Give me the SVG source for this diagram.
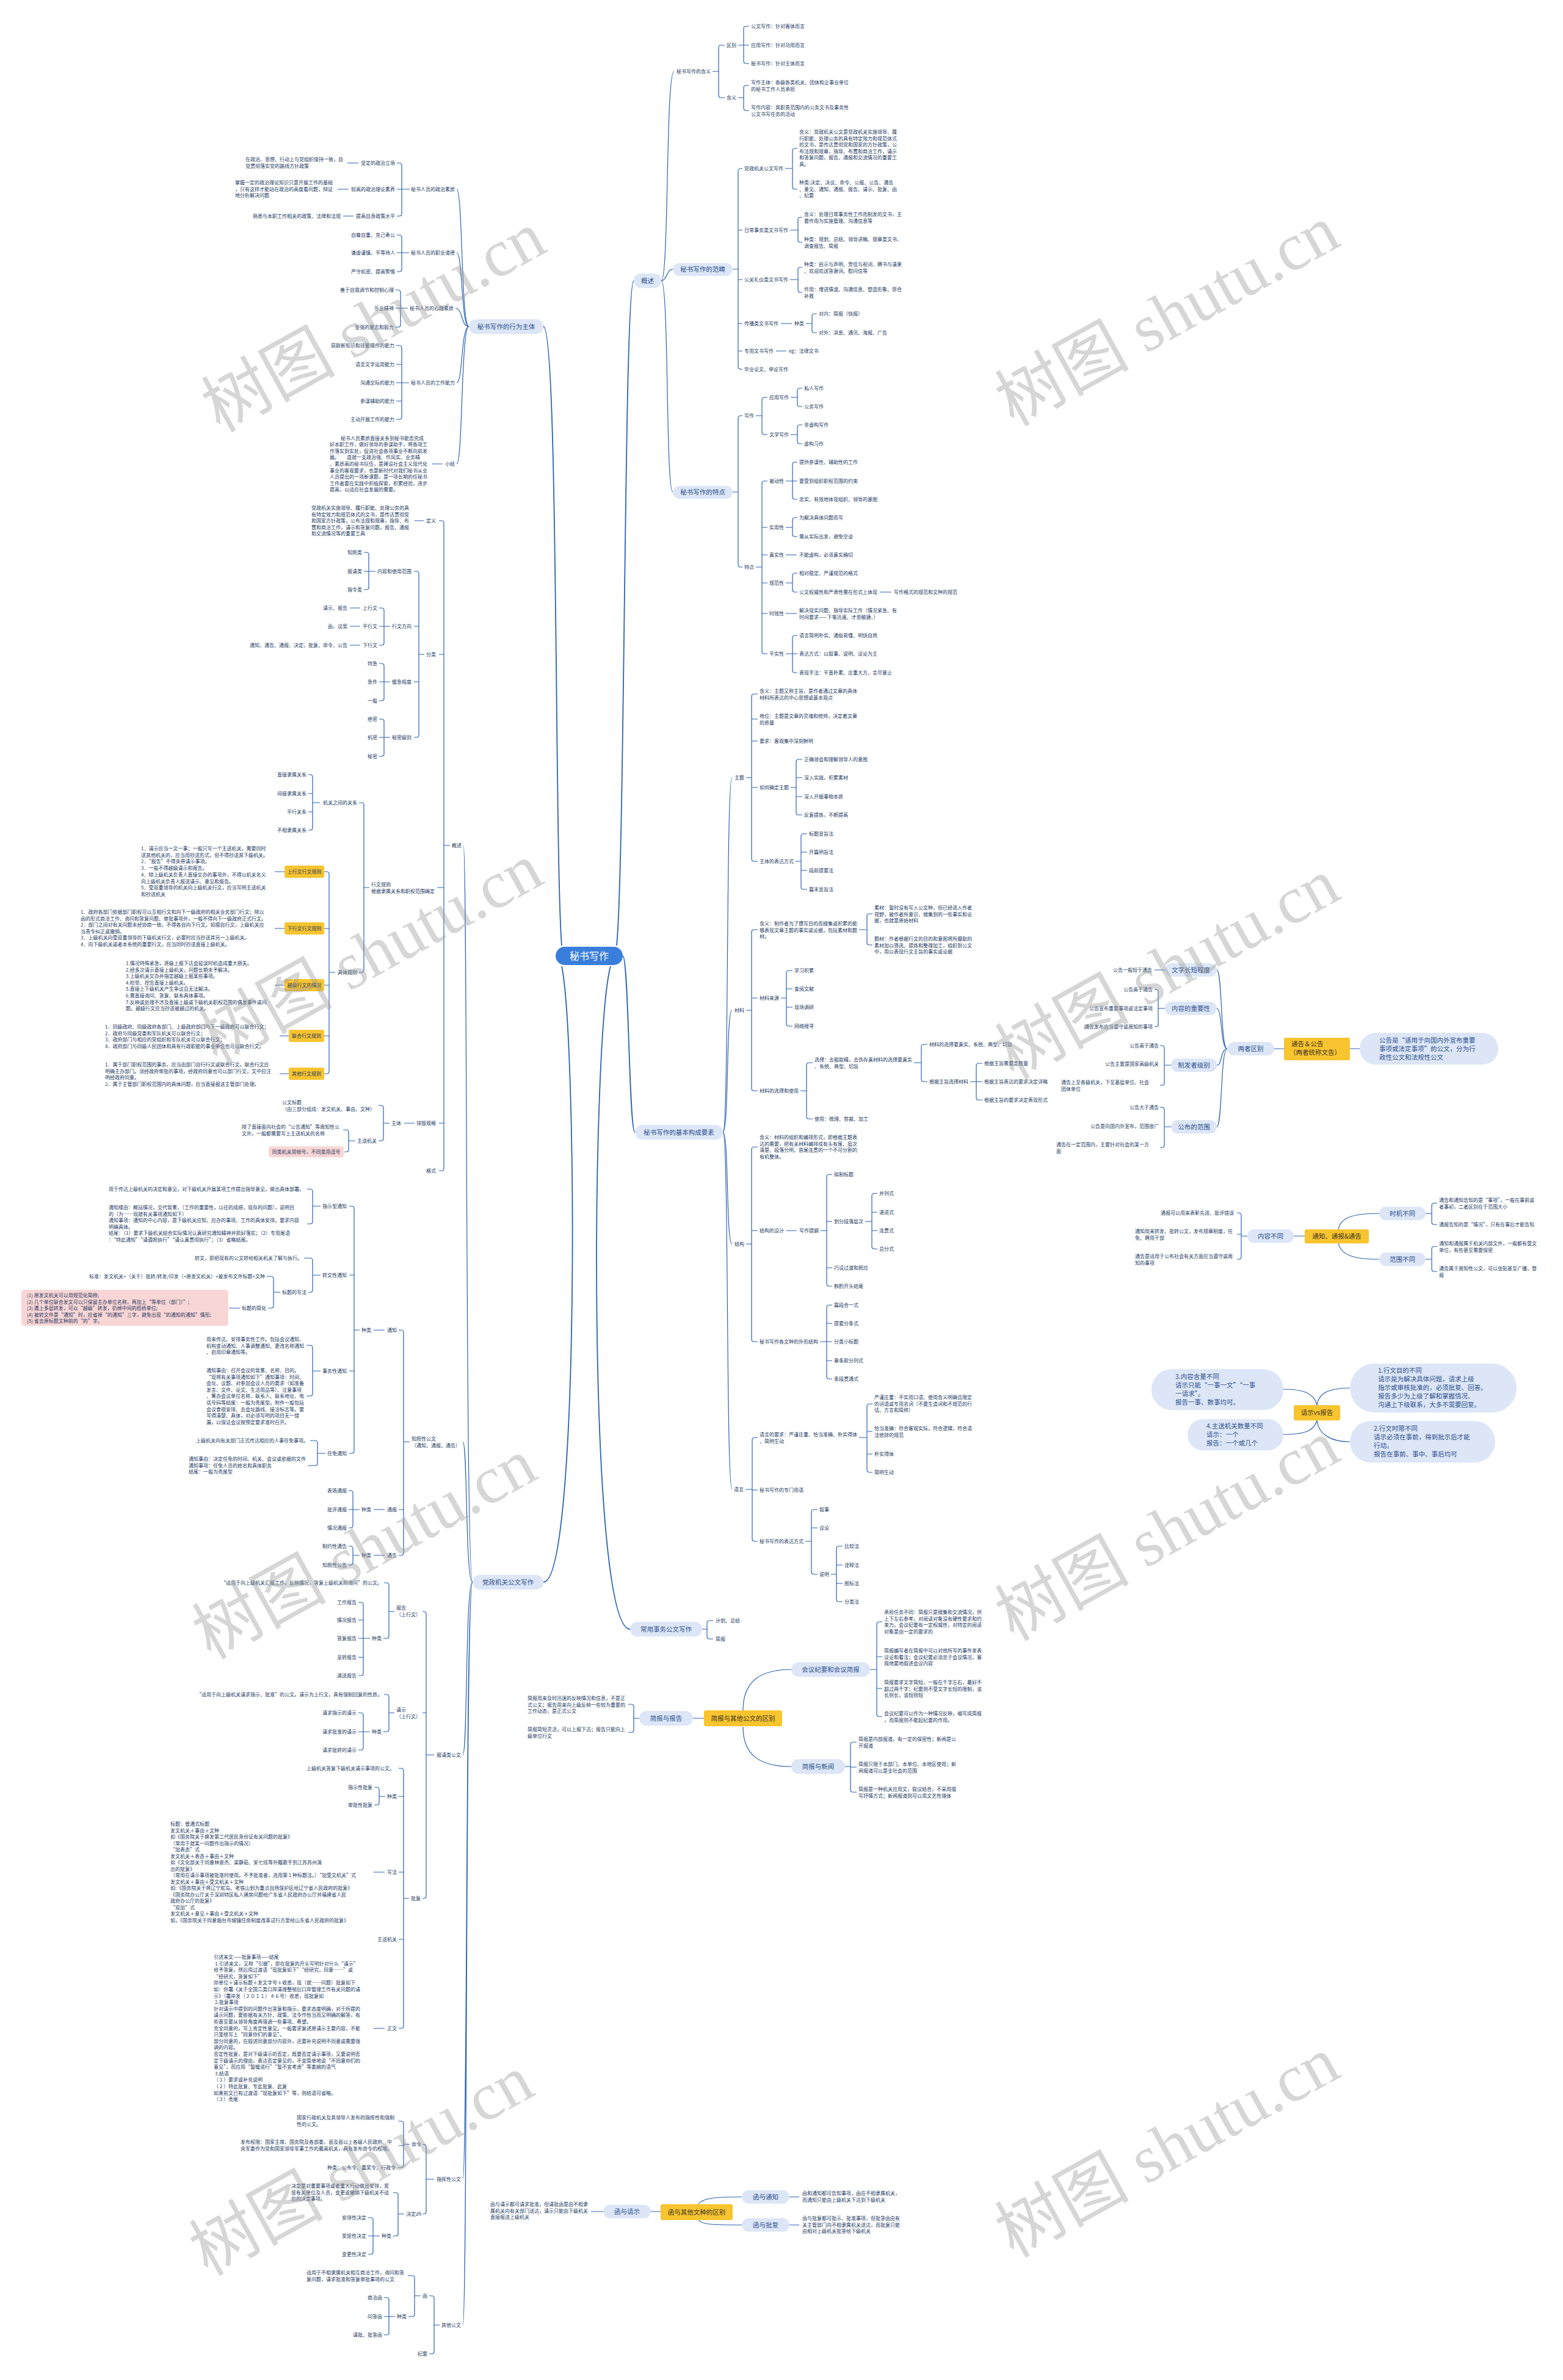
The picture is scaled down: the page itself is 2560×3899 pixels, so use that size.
<svg xmlns="http://www.w3.org/2000/svg" width="2560" height="3899" viewBox="0 0 2560 3899">
<style>
.t{font-family:"Noto Sans CJK SC","Noto Sans",sans-serif;font-size:8px;fill:#22375e}
.e{text-anchor:end}
.m{text-anchor:middle}
.pt{font-family:"Noto Sans CJK SC","Noto Sans",sans-serif;font-size:10.5px;fill:#2d4f8e;text-anchor:middle}
.pm{font-family:"Noto Sans CJK SC","Noto Sans",sans-serif;font-size:10.5px;fill:#2d4f8e}
.yt{font-family:"Noto Sans CJK SC","Noto Sans",sans-serif;font-size:10.5px;fill:#3b3320}
.pill{fill:#dce6f7}
.yb{fill:#f8c42f}
.pk{fill:#f9d6d6}
.c{fill:none;stroke:#2c63b3;stroke-width:1.2}
.cm{fill:none;stroke:#2c63b3;stroke-width:1.8}
.wm{font-family:"Liberation Serif","Noto Sans CJK SC",serif;font-size:110px;fill:#9a9a9a;opacity:.4;text-anchor:middle}
</style>
<rect width="2560" height="3899" fill="#ffffff"/>
<g id="connectors">
<path class="cm" d="M1010 1549 C1024 1400 1022 460 1038 460 M1020 1566 C1030 1566 1030 1855 1040 1855 M1000 1583 C968 1700 962 2669 1032 2669 M920 1549 C908 1400 915 535 890 535 M920 1583 C945 1700 950 2592 890 2592"/>
<path class="c" d="M1083 460 C1096 460 1090 117 1104 117 M1083 460 C1092 460 1092 441 1102 441 M1083 460 C1096 460 1090 806 1102 806"/>
<path class="c" d="M1167 117 H1177 M1187 74 H1181 Q1177 74 1177 78 V156 Q1177 160 1181 160 H1187 M1209 74 H1227 M1227 43 H1222 Q1218 43 1218 47 V100 Q1218 104 1222 104 H1227 M1209 160 H1218 M1227 140 H1222 Q1218 140 1218 144 V177 Q1218 181 1222 181 H1227"/>
<path class="c" d="M1200 441 H1209 M1216 276 H1214 Q1209 276 1209 281 V600 Q1209 605 1214 605 H1216 M1209 377 H1216 M1209 458 H1216 M1209 530 H1216 M1209 575 H1216 M1286 276 H1298 M1306 243 H1302 Q1298 243 1298 247 V306 Q1298 310 1302 310 H1306 M1294 377 H1307 M1314 356 H1311 Q1307 356 1307 360 V393 Q1307 397 1311 397 H1314 M1294 458 H1307 M1314 438 H1311 Q1307 438 1307 442 V475 Q1307 479 1311 479 H1314 M1279 530 H1297 M1320 530 H1330 M1338 514 H1334 Q1330 514 1330 518 V541 Q1330 545 1334 545 H1338 M1271 575 H1288"/>
<path class="c" d="M1200 806 H1209 M1216 681 H1213 Q1209 681 1209 685 V925 Q1209 929 1213 929 H1216 M1238 681 H1248 M1257 651 H1252 Q1248 651 1248 655 V708 Q1248 712 1252 712 H1257 M1295 651 H1306 M1314 636 H1310 Q1306 636 1306 640 V662 Q1306 666 1310 666 H1314 M1295 712 H1306 M1314 696 H1310 Q1306 696 1306 700 V723 Q1306 727 1310 727 H1314 M1238 929 H1248 M1257 788 H1252 Q1248 788 1248 792 V1067 Q1248 1071 1252 1071 H1257 M1248 864 H1257 M1248 909 H1257 M1248 955 H1257 M1248 1005 H1257 M1287 788 H1306 M1306 757 H1302 Q1298 757 1298 761 V814 Q1298 818 1302 818 H1306 M1287 864 H1298 M1306 848 H1302 Q1298 848 1298 852 V875 Q1298 879 1302 879 H1306 M1287 909 H1305 M1287 955 H1298 M1306 939 H1302 Q1298 939 1298 943 V966 Q1298 970 1302 970 H1306 M1441 970 H1460 M1287 1005 H1305 M1287 1071 H1306 M1306 1041 H1302 Q1298 1041 1298 1045 V1098 Q1298 1102 1302 1102 H1306"/>
<path class="c" d="M1184 1855 C1194 1855 1189 1274 1199 1274 M1184 1855 C1194 1855 1189 1655 1199 1655 M1184 1855 C1194 1855 1189 2038 1199 2038 M1184 1855 C1194 1855 1189 2440 1199 2440"/>
<path class="c" d="M1222 1274 H1231 M1241 1137 H1235 Q1231 1137 1231 1141 V1407 Q1231 1411 1235 1411 H1241 M1231 1178 H1241 M1231 1214 H1241 M1231 1290 H1241 M1295 1290 H1304 M1314 1244 H1308 Q1304 1244 1304 1248 V1331 Q1304 1335 1308 1335 H1314 M1304 1274 H1314 M1304 1305 H1314 M1303 1411 H1312 M1322 1366 H1316 Q1312 1366 1312 1370 V1453 Q1312 1457 1316 1457 H1322 M1312 1396 H1322 M1312 1426 H1322"/>
<path class="c" d="M1222 1655 H1231 M1241 1523 H1235 Q1231 1523 1231 1527 V1783 Q1231 1787 1235 1787 H1241 M1231 1635 H1241 M1407 1523 H1420 M1429 1497 H1424 Q1420 1497 1420 1501 V1544 Q1420 1548 1424 1548 H1429 M1279 1635 H1288 M1298 1590 H1292 Q1288 1590 1288 1594 V1677 Q1288 1681 1292 1681 H1298 M1288 1620 H1298 M1288 1650 H1298 M1311 1787 H1321 M1331 1741 H1325 Q1321 1741 1321 1745 V1829 Q1321 1833 1325 1833 H1331 M1497 1741 H1509 M1519 1711 H1513 Q1509 1711 1509 1715 V1768 Q1509 1772 1513 1772 H1519 M1589 1772 H1609 M1609 1742 H1603 Q1599 1742 1599 1746 V1798 Q1599 1802 1603 1802 H1609"/>
<path class="c" d="M1222 2038 H1231 M1241 1879 H1235 Q1231 1879 1231 1883 V2194 Q1231 2198 1235 2198 H1241 M1231 2016 H1241 M1288 2016 H1305 M1344 2016 H1354 M1363 1924 H1358 Q1354 1924 1354 1928 V2103 Q1354 2107 1358 2107 H1363 M1354 2001 H1363 M1354 2077 H1363 M1417 2001 H1428 M1437 1955 H1432 Q1428 1955 1428 1959 V2042 Q1428 2046 1432 2046 H1437 M1428 1986 H1437 M1428 2016 H1437 M1343 2198 H1354 M1363 2138 H1358 Q1354 2138 1354 2142 V2255 Q1354 2259 1358 2259 H1363 M1354 2168 H1363 M1354 2198 H1363 M1354 2229 H1363"/>
<path class="c" d="M1221 2440 H1232 M1241 2355 H1236 Q1232 2355 1232 2359 V2521 Q1232 2525 1236 2525 H1241 M1232 2441 H1241 M1407 2355 H1420 M1429 2300 H1424 Q1420 2300 1420 2304 V2408 Q1420 2412 1424 2412 H1429 M1420 2345 H1429 M1420 2382 H1429 M1319 2525 H1329 M1339 2473 H1333 Q1329 2473 1329 2477 V2575 Q1329 2579 1333 2579 H1339 M1329 2503 H1339 M1361 2579 H1370 M1380 2533 H1374 Q1370 2533 1370 2537 V2620 Q1370 2624 1374 2624 H1380 M1370 2564 H1380 M1370 2594 H1380"/>
<path class="c" d="M1150 2669 H1158 M1168 2655 H1162 Q1158 2655 1158 2659 V2681 Q1158 2685 1162 2685 H1168"/>
<path class="c" d="M1217 2802 C1217 2752 1248 2735 1296 2735 M1217 2829 C1217 2878 1248 2894 1296 2894 M1135 2815 H1153 M1425 2735 H1436 M1445 2657 H1440 Q1436 2657 1436 2661 V2808 Q1436 2812 1440 2812 H1445 M1436 2714 H1445 M1436 2766 H1445 M1384 2894 H1393 M1403 2854 H1397 Q1393 2854 1393 2858 V2932 Q1393 2936 1397 2936 H1403 M1393 2895 H1403 M1047 2815 H1038 M1029 2792 H1034 Q1038 2792 1038 2796 V2834 Q1038 2838 1034 2838 H1029"/>
<path class="c" d="M1144 3611 C1150 3601 1172 3599 1215 3599 M1144 3637 C1150 3645 1172 3645 1215 3645 M1293 3599 H1309 M1293 3645 H1309 M1066 3623 H1082 M988 3623 H968"/>
<path class="c" d="M2211 1718 H2227 M2087 1718 H2103 M2010 1718 C1999 1718 2002 1589 1993 1589 M2010 1718 C1999 1718 2002 1652 1993 1652 M2010 1718 C1999 1718 2002 1745 1993 1745 M2010 1718 C1999 1718 2002 1846 1993 1846 M1908 1589 H1891 M1908 1652 H1897 M1891 1621 H1893 Q1897 1621 1897 1625 V1678 Q1897 1682 1893 1682 H1891 M1918 1745 H1907 M1900 1713 H1903 Q1907 1713 1907 1717 V1774 Q1907 1778 1903 1778 H1900 M1918 1846 H1907 M1900 1814 H1903 Q1907 1814 1907 1818 V1876 Q1907 1880 1903 1880 H1900"/>
<path class="c" d="M2119 2025 H2137 M2043 2025 H2033 M2026 1987 H2029 Q2033 1987 2033 1991 V2059 Q2033 2063 2029 2063 H2026 M2033 2022 H2026 M2192 2014 C2196 1992 2222 1988 2259 1988 M2192 2036 C2196 2058 2222 2063 2259 2063 M2335 1988 H2345 M2354 1971 H2349 Q2345 1971 2345 1975 V2002 Q2345 2006 2349 2006 H2354 M2335 2063 H2345 M2354 2042 H2349 Q2345 2042 2345 2046 V2079 Q2345 2083 2349 2083 H2354"/>
<path class="c" d="M2157 2302 C2160 2280 2180 2274 2211 2274 M2157 2302 C2152 2282 2135 2276 2102 2276 M2157 2327 C2160 2350 2180 2362 2211 2362 M2157 2327 C2152 2345 2135 2350 2102 2350"/>
<path class="c" d="M768 535 C755 535 758 310 748 310 M768 535 C755 535 758 414 748 414 M768 535 C755 535 758 505 746 505 M768 535 C755 535 758 627 748 627 M768 535 C755 535 758 760 748 760"/>
<path class="c" d="M671 310 H658 M650 267 H654 Q658 267 658 271 V350 Q658 354 654 354 H650 M658 310 H650 M587 267 H569 M571 310 H553 M579 354 H562 M670 414 H658 M650 385 H654 Q658 385 658 389 V441 Q658 445 654 445 H650 M658 414 H650 M668 505 H656 M648 475 H652 Q656 475 656 479 V532 Q656 536 652 536 H648 M656 505 H648 M670 627 H658 M649 566 H654 Q658 566 658 570 V683 Q658 687 654 687 H649 M658 597 H649 M658 627 H649 M658 657 H649 M725 760 H708"/>
<path class="c" d="M774 2592 C762 2592 766 1385 759 1385 M774 2592 C762 2592 766 2362 758 2362 M774 2592 C762 2592 766 2875 758 2875 M774 2592 C762 2592 766 3570 758 3570 M774 2592 C762 2592 766 3809 758 3809"/>
<path class="c" d="M737 1385 H727 M719 853 H723 Q727 853 727 857 V1914 Q727 1918 723 1918 H719 M727 1072 H719 M727 1454 H716 M727 1840 H719 M694 853 H679 M695 1072 H686 M678 936 H682 Q686 936 686 940 V1204 Q686 1208 682 1208 H678 M686 1026 H678 M686 1117 H678 M615 936 H604 M596 905 H600 Q604 905 604 909 V962 Q604 966 600 966 H596 M604 936 H596 M639 1026 H629 M621 996 H625 Q629 996 629 1000 V1053 Q629 1057 625 1057 H621 M629 1026 H621 M590 996 H573 M590 1026 H573 M590 1057 H573 M639 1117 H629 M621 1087 H625 Q629 1087 629 1091 V1144 Q629 1148 625 1148 H621 M629 1117 H621 M639 1208 H629 M621 1178 H625 Q629 1178 629 1182 V1235 Q629 1239 625 1239 H621 M629 1208 H621"/>
<path class="c" d="M605 1454 H596 M588 1315 H592 Q596 1315 596 1319 V1589 Q596 1593 592 1593 H588 M524 1315 H512 M505 1269 H508 Q512 1269 512 1273 V1356 Q512 1360 508 1360 H505 M512 1300 H505 M512 1330 H505 M549 1593 H539 M531 1428 H535 Q539 1428 539 1432 V1755 Q539 1759 535 1759 H531 M539 1521 H531 M539 1614 H531 M539 1697 H531 M466 1428 H450 M466 1521 H450 M466 1614 H450 M473 1697 H458 M473 1759 H458 M679 1840 H662 M638 1840 H628 M620 1811 H624 Q628 1811 628 1815 V1865 Q628 1869 624 1869 H620 M582 1869 H571 M562 1851 H567 Q571 1851 571 1855 V1883 Q571 1887 567 1887 H564"/>
<path class="c" d="M671 2362 H661 M653 2179 H657 Q661 2179 661 2183 V2544 Q661 2548 657 2548 H653 M661 2473 H653 M630 2179 H612 M589 2179 H580 M572 1976 H576 Q580 1976 580 1980 V2377 Q580 2381 576 2381 H572 M580 2089 H572 M580 2246 H572 M525 1976 H512 M503 1948 H508 Q512 1948 512 1952 V2001 Q512 2005 508 2005 H503 M525 2089 H512 M498 2061 H508 Q512 2061 512 2065 V2113 Q512 2117 508 2117 H505 M459 2117 H448 M437 2091 H444 Q448 2091 448 2095 V2139 Q448 2143 444 2143 H439 M393 2143 H375 M525 2246 H512 M502 2204 H508 Q512 2204 512 2208 V2283 Q512 2287 508 2287 H502 M533 2381 H520 M508 2360 H516 Q520 2360 520 2364 V2397 Q520 2401 516 2401 H504 M630 2473 H612 M589 2473 H578 M571 2442 H574 Q578 2442 578 2446 V2499 Q578 2503 574 2503 H571 M578 2473 H571 M630 2548 H612 M589 2548 H578 M571 2533 H574 Q578 2533 578 2537 V2560 Q578 2564 574 2564 H571"/>
<path class="c" d="M711 2875 H698 M692 2640 H694 Q698 2640 698 2644 V3106 Q698 3110 694 3110 H692 M698 2806 H692 M646 2640 H637 M629 2593 H633 Q637 2593 637 2597 V2680 Q637 2684 633 2684 H628 M606 2684 H595 M587 2625 H591 Q595 2625 595 2629 V2741 Q595 2745 591 2745 H587 M595 2654 H587 M595 2684 H587 M595 2715 H587 M646 2806 H637 M629 2776 H633 Q637 2776 637 2780 V2833 Q637 2837 633 2837 H628 M606 2837 H595 M587 2806 H591 Q595 2806 595 2810 V2863 Q595 2867 591 2867 H587 M595 2837 H587 M670 3110 H661 M653 2897 H657 Q661 2897 661 2901 V3319 Q661 3323 657 3323 H653 M661 2943 H653 M661 3067 H653 M661 3177 H653 M631 2943 H621 M613 2928 H617 Q621 2928 621 2932 V2953 Q621 2957 617 2957 H613 M630 3067 H612 M630 3323 H612"/>
<path class="c" d="M711 3570 H698 M692 3513 H694 Q698 3513 698 3517 V3623 Q698 3627 694 3627 H692 M671 3513 H661 M653 3475 H657 Q661 3475 661 3479 V3547 Q661 3551 657 3551 H652 M661 3515 H653 M662 3627 H652 M644 3592 H648 Q652 3592 652 3596 V3659 Q652 3663 648 3663 H644 M622 3663 H611 M603 3633 H607 Q611 3633 611 3637 V3689 Q611 3693 607 3693 H603 M611 3663 H603 M720 3809 H711 M703 3761 H707 Q711 3761 711 3765 V3852 Q711 3856 707 3856 H703 M689 3761 H679 M668 3728 H675 Q679 3728 679 3732 V3791 Q679 3795 675 3795 H669 M647 3795 H637 M629 3764 H633 Q637 3764 637 3768 V3821 Q637 3825 633 3825 H629 M637 3795 H629"/>
</g>
<g id="root"><rect x="910" y="1551" width="110" height="30" rx="15" fill="#3a7edb"/><text x="965" y="1572" text-anchor="middle" font-family="Noto Sans CJK SC, sans-serif" font-size="16" fill="#ffffff">秘书写作</text></g>
<g id="gaishu">
<rect class="pill" x="1038" y="448" width="45" height="24" rx="12"/><text class="pt" x="1060.5" y="464">概述</text>
<text class="t" x="1108" y="120">秘书写作的含义</text>
<text class="t" x="1190" y="77">区别</text><text class="t" x="1190" y="163">含义</text>
<text class="t" x="1230" y="46">公文写作：针对客体而言</text>
<text class="t" x="1230" y="77">应用写作：针对功用而言</text>
<text class="t" x="1230" y="107">秘书写作：针对主体而言</text>
<text class="t" x="1230" y="138"><tspan x="1230">写作主体：各级各类机关、团体和企事业单位</tspan><tspan x="1230" dy="10.6">的秘书工作人员承担</tspan></text>
<text class="t" x="1230" y="179"><tspan x="1230">写作内容：其职责范围内的公务文书及事务性</tspan><tspan x="1230" dy="10.6">公文书写任务的活动</tspan></text>
</g>
<g id="fanchou">
<rect class="pill" x="1102" y="431" width="98" height="21" rx="10.5"/><text class="pt" x="1151" y="445">秘书写作的范畴</text>
<text class="t" x="1219" y="279">党政机关公文写作</text>
<text class="t" x="1309" y="219"><tspan x="1309">含义：党政机关公文是党政机关实施领导、履</tspan><tspan x="1309" dy="10.6">行职能、处理公务的具有特定效力和规范体式</tspan><tspan x="1309" dy="10.6">的文书，是传达贯彻党和国家的方针政策，公</tspan><tspan x="1309" dy="10.6">布法规和规章，指导、布置和商洽工作，请示</tspan><tspan x="1309" dy="10.6">和答复问题，报告、通报和交流情况的重要工</tspan><tspan x="1309" dy="10.6">具。</tspan></text>
<text class="t" x="1309" y="302"><tspan x="1309">种类:决定、决议、命令、公报、公告、通告</tspan><tspan x="1309" dy="10.6">、意见、通知、通报、报告、请示、批复、函</tspan><tspan x="1309" dy="10.6">、纪要</tspan></text>
<text class="t" x="1219" y="380">日常事务类文书写作</text>
<text class="t" x="1317" y="354"><tspan x="1317">含义：处理日常事务性工作而制发的文书，主</tspan><tspan x="1317" dy="10.6">要作用为实施管理、沟通信息等</tspan></text>
<text class="t" x="1317" y="395"><tspan x="1317">种类：规划、总结、领导讲稿、规章类文书、</tspan><tspan x="1317" dy="10.6">调查报告、简报</tspan></text>
<text class="t" x="1219" y="461">公关礼仪类文书写作</text>
<text class="t" x="1317" y="436"><tspan x="1317">种类：启示与声明、贺信与祝词、聘书与请柬</tspan><tspan x="1317" dy="10.6">、欢迎欢送答谢词、慰问信等</tspan></text>
<text class="t" x="1317" y="477"><tspan x="1317">作用：增进情谊、沟通信息、塑造形象、弥合</tspan><tspan x="1317" dy="10.6">补救</tspan></text>
<text class="t" x="1219" y="533">传播类文书写作</text><text class="t" x="1301" y="533">种类</text>
<text class="t" x="1341" y="517">对内：简报（快报）</text><text class="t" x="1341" y="548">对外：消息、通讯、海报、广告</text>
<text class="t" x="1219" y="578">专用文书写作</text><text class="t" x="1292" y="578">eg：法律文书</text>
<text class="t" x="1219" y="608">毕业论文、申论写作</text>
</g>
<g id="tedian">
<rect class="pill" x="1102" y="796" width="98" height="21" rx="10.5"/><text class="pt" x="1151" y="810">秘书写作的特点</text>
<text class="t" x="1219" y="684">写作</text>
<text class="t" x="1260" y="654">应用写作</text><text class="t" x="1260" y="715">文学写作</text>
<text class="t" x="1317" y="639">私人写作</text><text class="t" x="1317" y="669">公务写作</text>
<text class="t" x="1317" y="699">非虚构写作</text><text class="t" x="1317" y="730">虚构习作</text>
<text class="t" x="1219" y="932">特点</text>
<text class="t" x="1260" y="791">被动性</text><text class="t" x="1260" y="867">实用性</text><text class="t" x="1260" y="912">真实性</text><text class="t" x="1260" y="958">规范性</text><text class="t" x="1260" y="1008">时效性</text><text class="t" x="1260" y="1074">平实性</text>
<text class="t" x="1309" y="760">提供参谋性、辅助性的工作</text>
<text class="t" x="1309" y="791">要受到组织职权范围的约束</text>
<text class="t" x="1309" y="821">忠实、有效地体现组织、领导的意图</text>
<text class="t" x="1309" y="851">为解决具体问题而写</text>
<text class="t" x="1309" y="882">需从实际出发，避免空谈</text>
<text class="t" x="1309" y="912">不能虚构，必须真实确切</text>
<text class="t" x="1309" y="942">相对稳定、严谨规范的格式</text>
<text class="t" x="1309" y="973">公文权威性和严肃性需在形式上体现</text>
<text class="t" x="1464" y="973">写作格式的规范和文种的规范</text>
<text class="t" x="1309" y="1003"><tspan x="1309">解决现实问题、指导实际工作（情况紧急、有</tspan><tspan x="1309" dy="10.6">时间要求——下笔迅速、才思敏捷、）</tspan></text>
<text class="t" x="1309" y="1044">语言简明朴实、通俗易懂、明快自然</text>
<text class="t" x="1309" y="1074">表达方式：以叙事、说明、议论为主</text>
<text class="t" x="1309" y="1105">表现手法：平直朴素、庄重大方、言尽意止</text>
</g>
<g id="yaosu">
<rect class="pill" x="1040" y="1843" width="144" height="24" rx="12"/><text class="pt" x="1112" y="1859">秘书写作的基本构成要素</text>
<text class="t" x="1203" y="1277">主题</text><text class="t" x="1203" y="1658">材料</text><text class="t" x="1203" y="2041">结构</text><text class="t" x="1202" y="2443">语言</text>
<text class="t" x="1244" y="1135"><tspan x="1244">含义：主题又称主旨，是作者通过文章的具体</tspan><tspan x="1244" dy="10.6">材料所表达的中心思想或基本观点</tspan></text>
<text class="t" x="1244" y="1176"><tspan x="1244">地位：主题是文章的灵魂和统帅，决定着文章</tspan><tspan x="1244" dy="10.6">的质量</tspan></text>
<text class="t" x="1244" y="1217">要求：客观集中深刻鲜明</text>
<text class="t" x="1244" y="1293">如何确定主题</text>
<text class="t" x="1317" y="1247">正确领会和理解领导人的意图</text><text class="t" x="1317" y="1277">深入实践，积累素材</text><text class="t" x="1317" y="1308">深入开掘事物本质</text><text class="t" x="1317" y="1338">反复提炼，不断提高</text>
<text class="t" x="1244" y="1414">主体的表达方式</text>
<text class="t" x="1325" y="1369">标题显旨法</text><text class="t" x="1325" y="1399">开篇明旨法</text><text class="t" x="1325" y="1429">段前提要法</text><text class="t" x="1325" y="1460">篇末显旨法</text>
<text class="t" x="1244" y="1516"><tspan x="1244">含义：制作者为了撰写目的而搜集或积累的能</tspan><tspan x="1244" dy="10.6">够表现文章主题的事实或论据，包括素材和题</tspan><tspan x="1244" dy="10.6">材。</tspan></text>
<text class="t" x="1432" y="1490"><tspan x="1432">素材：暂时没有写入公文种，但已经进入作者</tspan><tspan x="1432" dy="10.6">视野，被作者所意识、搜集到的一些事实和论</tspan><tspan x="1432" dy="10.6">据，也就是原始材料</tspan></text>
<text class="t" x="1432" y="1541"><tspan x="1432">题材：作者根据行文的目的和意图将所摄取的</tspan><tspan x="1432" dy="10.6">素材加以筛选、提炼和整理加工，组织到公文</tspan><tspan x="1432" dy="10.6">中，用以表现行文主旨的事实或论据</tspan></text>
<text class="t" x="1244" y="1638">材料来源</text>
<text class="t" x="1301" y="1593">学习积累</text><text class="t" x="1301" y="1623">查阅文献</text><text class="t" x="1301" y="1653">现场调研</text><text class="t" x="1301" y="1684">网络搜寻</text>
<text class="t" x="1244" y="1790">材料的选择和使用</text>
<text class="t" x="1334" y="1739"><tspan x="1334">选择：去粗取精，去伪存真材料的选择要真实</tspan><tspan x="1334" dy="10.6">、系统、典型、切旨</tspan></text>
<text class="t" x="1334" y="1836">使用：梳理、剪裁、加工</text>
<text class="t" x="1522" y="1714">材料的选择要真实、系统、典型、切旨</text>
<text class="t" x="1522" y="1775">根据主旨选择材料</text>
<text class="t" x="1612" y="1745">根据主旨需要定数量</text><text class="t" x="1612" y="1775">根据主旨表达的要求决定详略</text><text class="t" x="1612" y="1805">根据主旨的要求决定表现形式</text>
<text class="t" x="1244" y="1866"><tspan x="1244">含义：材料的组织和编排形式，即根据主题表</tspan><tspan x="1244" dy="10.6">达的需要，把有关材料编排成有头有尾、层次</tspan><tspan x="1244" dy="10.6">清楚、段落分明、首尾连贯的一个不可分割的</tspan><tspan x="1244" dy="10.6">有机整体。</tspan></text>
<text class="t" x="1244" y="2019">结构的设计</text><text class="t" x="1309" y="2019">写作提纲</text>
<text class="t" x="1366" y="1927">拟制标题</text><text class="t" x="1366" y="2004">划分段落层次</text><text class="t" x="1366" y="2080">巧设过渡和照应</text><text class="t" x="1366" y="2110">斟酌开头结尾</text>
<text class="t" x="1440" y="1958">并列式</text><text class="t" x="1440" y="1989">递进式</text><text class="t" x="1440" y="2019">连贯式</text><text class="t" x="1440" y="2049">总分式</text>
<text class="t" x="1244" y="2201">秘书写作各文种的外形结构</text>
<text class="t" x="1366" y="2141">篇段合一式</text><text class="t" x="1366" y="2171">提要分条式</text><text class="t" x="1366" y="2201">分类小标题</text><text class="t" x="1366" y="2232">章条款分列式</text><text class="t" x="1366" y="2262">条段贯通式</text>
<text class="t" x="1244" y="2353"><tspan x="1244">语言的要求：严谨庄重、恰当准确、朴实得体</tspan><tspan x="1244" dy="10.6">、简明生动</tspan></text>
<text class="t" x="1432" y="2292"><tspan x="1432">严谨庄重：不实用口语、使用含义明确且限定</tspan><tspan x="1432" dy="10.6">的词语或专用名词（不要生造词和不规范的行</tspan><tspan x="1432" dy="10.6">话、方言和简称）</tspan></text>
<text class="t" x="1432" y="2343"><tspan x="1432">恰当准确：符合客观实际，符合逻辑，符合语</tspan><tspan x="1432" dy="10.6">法修辞的规范</tspan></text>
<text class="t" x="1432" y="2385">朴实得体</text><text class="t" x="1432" y="2415">简明生动</text>
<text class="t" x="1244" y="2444">秘书写作的专门用语</text>
<text class="t" x="1244" y="2528">秘书写作的表达方式</text>
<text class="t" x="1342" y="2476">叙事</text><text class="t" x="1342" y="2506">议论</text><text class="t" x="1342" y="2582">说明</text>
<text class="t" x="1383" y="2536">比较法</text><text class="t" x="1383" y="2567">诠释法</text><text class="t" x="1383" y="2597">图标法</text><text class="t" x="1383" y="2627">分类法</text>
</g>
<g id="changyong">
<rect class="pill" x="1032" y="2657" width="118" height="24" rx="12"/><text class="pt" x="1091" y="2673">常用事务公文写作</text>
<text class="t" x="1172" y="2658">计划、总结</text><text class="t" x="1172" y="2688">简报</text>
</g>
<g id="jianbao">
<rect class="yb" x="1153" y="2802" width="128" height="26" rx="3"/><text class="yt m" x="1217" y="2819">简报与其他公文的区别</text>
<rect class="pill" x="1296" y="2723" width="129" height="24" rx="12"/><text class="pt" x="1360.5" y="2739">会议纪要和会议简报</text>
<text class="t" x="1448" y="2644"><tspan x="1448">承担任务不同：简报只是搜集和交流情况，供</tspan><tspan x="1448" dy="10.6">上下左右参考，对阅读对象没有硬性要求和约</tspan><tspan x="1448" dy="10.6">束力。会议纪要有一定权威性，对特定的阅读</tspan><tspan x="1448" dy="10.6">对象是由一定的要求的</tspan></text>
<text class="t" x="1448" y="2707"><tspan x="1448">简报编写者在简报中可以对他所写的事件发表</tspan><tspan x="1448" dy="10.6">议论和看法；会议纪要必须忠于会议情况，客</tspan><tspan x="1448" dy="10.6">观地要地叙述会议内容</tspan></text>
<text class="t" x="1448" y="2759"><tspan x="1448">简报要求文字简短，一般在千字左右，最好不</tspan><tspan x="1448" dy="10.6">超过两千字；纪要则不受文字长短的限制，该</tspan><tspan x="1448" dy="10.6">长则长，该短则短</tspan></text>
<text class="t" x="1448" y="2810"><tspan x="1448">会议纪要可以作为一种情况反映，缩写成简报</tspan><tspan x="1448" dy="10.6">，而简报则不能起纪要的作用。</tspan></text>
<rect class="pill" x="1296" y="2882" width="88" height="24" rx="12"/><text class="pt" x="1340" y="2898">简报与新闻</text>
<text class="t" x="1406" y="2852"><tspan x="1406">简报是内部报道，有一定的保密性；新闻是公</tspan><tspan x="1406" dy="10.6">开报道</tspan></text>
<text class="t" x="1406" y="2893"><tspan x="1406">简报只限于本部门、本单位、本地区使用；新</tspan><tspan x="1406" dy="10.6">闻报道可以是全社会的范围</tspan></text>
<text class="t" x="1406" y="2934"><tspan x="1406">简报是一种机关应用文，叙议结合，不采用描</tspan><tspan x="1406" dy="10.6">写抒情方式；新闻报道则可以用文艺性措体</tspan></text>
<rect class="pill" x="1047" y="2803" width="88" height="24" rx="12"/><text class="pt" x="1091" y="2819">简报与报告</text>
<text class="t" x="864" y="2785"><tspan x="864">简报用来及时迅速的反映情况和信息，不是正</tspan><tspan x="864" dy="10.6">式公文；报告用来向上级反映一些较为重要的</tspan><tspan x="864" dy="10.6">工作动态，是正式公文</tspan></text>
<text class="t" x="864" y="2836"><tspan x="864">简报简短灵活，可以上报下达；报告只能向上</tspan><tspan x="864" dy="10.6">级单位行文</tspan></text>
</g>
<g id="han">
<rect class="yb" x="1082" y="3611" width="118" height="26" rx="3"/><text class="yt m" x="1141" y="3628">函与其他文种的区别</text>
<rect class="pill" x="1215" y="3588" width="78" height="22" rx="11"/><text class="pt" x="1254" y="3603">函与通知</text>
<text class="t" x="1314" y="3596"><tspan x="1314">函和通知都可告知事项，函在不相隶属机关，</tspan><tspan x="1314" dy="10.6">而通知只能由上级机关下达到下级机关</tspan></text>
<rect class="pill" x="1215" y="3634" width="78" height="22" rx="11"/><text class="pt" x="1254" y="3649">函与批复</text>
<text class="t" x="1314" y="3637"><tspan x="1314">函与批复都可批示、批准事项，但批答函由有</tspan><tspan x="1314" dy="10.6">关主管部门向不相隶属机关送达，而批复只能</tspan><tspan x="1314" dy="10.6">由相对上级机关批答给下级机关</tspan></text>
<rect class="pill" x="988" y="3612" width="78" height="22" rx="11"/><text class="pt" x="1027" y="3627">函与请示</text>
<text class="t" x="803" y="3614"><tspan x="803">函与请示都可请求批准，但请批函是由不相隶</tspan><tspan x="803" dy="10.6">属机关向有关部门送达，请示只能由下级机关</tspan><tspan x="803" dy="10.6">直接报送上级机关</tspan></text>
</g>
<g id="tonggao-gonggao">
<rect class="yb" x="2103" y="1700" width="108" height="37" rx="3"/>
<text class="yt" x="2115" y="1714"><tspan x="2115">通告＆公告</tspan><tspan x="2112" dy="14">（两者统称文告）</tspan></text>
<rect class="pill" x="2227" y="1692" width="227" height="52" rx="26"/>
<text class="pm" x="2259" y="1708"><tspan x="2259">公告是“适用于向国内外宣布重要</tspan><tspan x="2259" dy="13.8">事项或法定事项”的公文，分为行</tspan><tspan x="2259" dy="13.8">政性公文和法规性公文</tspan></text>
<rect class="pill" x="2010" y="1707" width="77" height="22" rx="11"/><text class="pt" x="2048.5" y="1722">两者区别</text>
<rect class="pill" x="1908" y="1578" width="85" height="22" rx="11"/><text class="pt" x="1950.5" y="1593">文字长短程度</text>
<text class="t e" x="1887" y="1592">公告一般短于通告</text>
<rect class="pill" x="1908" y="1641" width="85" height="22" rx="11"/><text class="pt" x="1950.5" y="1656">内容的重要性</text>
<text class="t e" x="1888" y="1624">公告高于通告</text><text class="t e" x="1888" y="1655">公告宣布重要事项或法定事项</text><text class="t e" x="1888" y="1685">通告发布应当遵守或周知的事项</text>
<rect class="pill" x="1918" y="1734" width="75" height="22" rx="11"/><text class="pt" x="1955.5" y="1749">制发者级别</text>
<text class="t e" x="1898" y="1716">公告高于通告</text><text class="t e" x="1898" y="1746">公告主要是国家高级机关</text>
<text class="t" x="1738" y="1776"><tspan x="1738">通告上至各级机关，下至基层单位、社会</tspan><tspan x="1738" dy="10.6">团体单位</tspan></text>
<rect class="pill" x="1918" y="1835" width="75" height="22" rx="11"/><text class="pt" x="1955.5" y="1850">公布的范围</text>
<text class="t e" x="1898" y="1817">公告大于通告</text><text class="t e" x="1898" y="1848">公告是向国内外宣布，范围很广</text>
<text class="t" x="1730" y="1878"><tspan x="1730">通告在一定范围内，主要针对社会的某一方</tspan><tspan x="1730" dy="10.6">面</tspan></text>
</g>
<g id="tongzhi-tongbao">
<rect class="yb" x="2137" y="2014" width="105" height="23" rx="3"/><text class="yt m" x="2189.5" y="2029">通知、通报&amp;通告</text>
<rect class="pill" x="2043" y="2014" width="76" height="22" rx="11"/><text class="pt" x="2081" y="2029">内容不同</text>
<text class="t e" x="2021" y="1990">通报可以用来表彰先进、批评错误</text>
<text class="t" x="1859" y="2020"><tspan x="1859">通知用来转发、批转公文，发布规章制度，任</tspan><tspan x="1859" dy="10.6">免、聘用干部</tspan></text>
<text class="t" x="1859" y="2061"><tspan x="1859">通告是适用于公布社会有关方面应当遵守或周</tspan><tspan x="1859" dy="10.6">知的事项</tspan></text>
<rect class="pill" x="2259" y="1977" width="76" height="22" rx="11"/><text class="pt" x="2297" y="1992">时机不同</text>
<text class="t" x="2357" y="1969"><tspan x="2357">通告和通知告知的是“事项”，一般在事前或</tspan><tspan x="2357" dy="10.6">者事初，二者区别在于范围大小</tspan></text>
<text class="t" x="2357" y="2009">通报告知的是“情况”，只有在事后才能告知</text>
<rect class="pill" x="2259" y="2052" width="76" height="22" rx="11"/><text class="pt" x="2297" y="2067">范围不同</text>
<text class="t" x="2357" y="2040"><tspan x="2357">通知和通报属于机关内部文件，一般都有受文</tspan><tspan x="2357" dy="10.6">单位，有些甚至需要保密</tspan></text>
<text class="t" x="2357" y="2081"><tspan x="2357">通告属于周知性公文，可以张贴甚至广播，登</tspan><tspan x="2357" dy="10.6">报</tspan></text>
</g>
<g id="qingshi-baogao">
<rect class="yb" x="2119" y="2302" width="76" height="25" rx="3"/><text class="yt m" x="2157" y="2318">请示vs报告</text>
<rect class="pill" x="2211" y="2234" width="273" height="80" rx="40"/>
<text class="pm" x="2257" y="2249"><tspan x="2257">1.行文目的不同</tspan><tspan x="2257" dy="14">请示是为解决具体问题，请求上级</tspan><tspan x="2257" dy="14">指示或审核批准的，必须批复、回答。</tspan><tspan x="2257" dy="14">报告多少为上级了解和掌握情况、</tspan><tspan x="2257" dy="14">沟通上下级联系，大多不需要回复。</tspan></text>
<rect class="pill" x="2211" y="2328" width="238" height="68" rx="34"/>
<text class="pm" x="2250" y="2344"><tspan x="2250">2.行文时限不同</tspan><tspan x="2250" dy="14">请示必须在事前，得到批示后才能</tspan><tspan x="2250" dy="14">行动。</tspan><tspan x="2250" dy="14">报告在事前、事中、事后均可</tspan></text>
<rect class="pill" x="1886" y="2243" width="216" height="67" rx="33"/>
<text class="pm" x="1925" y="2259"><tspan x="1925">3.内容含量不同</tspan><tspan x="1925" dy="14">请示只能“一事一文”“一事</tspan><tspan x="1925" dy="14">一请求”。</tspan><tspan x="1925" dy="14">报告一事、数事均可。</tspan></text>
<rect class="pill" x="1945" y="2325" width="157" height="51" rx="25"/>
<text class="pm" x="1976" y="2340"><tspan x="1976">4.主送机关数量不同</tspan><tspan x="1976" dy="14">请示：一个</tspan><tspan x="1976" dy="14">报告：一个或几个</tspan></text>
</g>
<g id="xingwei">
<rect class="pill" x="768" y="523" width="122" height="24" rx="12"/><text class="pt" x="829" y="539">秘书写作的行为主体</text>
<text class="t e" x="745" y="313">秘书人员的政治素质</text>
<text class="t e" x="647" y="270">坚定的政治立场</text><text class="t e" x="647" y="313">较高的政治理论素养</text><text class="t e" x="647" y="357">提高自身政策水平</text>
<text class="t" x="402" y="264"><tspan x="402">在政治、思想、行动上与党组织保持一致，自</tspan><tspan x="402" dy="10.6">觉贯彻落实党的路线方针政策</tspan></text>
<text class="t" x="385" y="302"><tspan x="385">掌握一定的政治理论知识只是开展工作的基础</tspan><tspan x="385" dy="10.6">，只有这样才能站在政治的高度看问题，辩证</tspan><tspan x="385" dy="10.6">地分析解决问题</tspan></text>
<text class="t e" x="558" y="357">熟悉与本职工作相关的政策、法律和法规</text>
<text class="t e" x="745" y="417">秘书人员的职业道德</text>
<text class="t e" x="647" y="388">自尊自重、克己奉公</text><text class="t e" x="647" y="417">谦虚谨慎、平等待人</text><text class="t e" x="647" y="448">严守机密、提高警惕</text>
<text class="t e" x="743" y="508">秘书人员的心理素质</text>
<text class="t e" x="645" y="478">善于自我调节和控制心理</text><text class="t e" x="645" y="508">乐业精神</text><text class="t e" x="645" y="539">坚强的意志和毅力</text>
<text class="t e" x="745" y="630">秘书人员的工作能力</text>
<text class="t e" x="646" y="569">获取新知识和技能操作的能力</text><text class="t e" x="646" y="600">语言文字运用能力</text><text class="t e" x="646" y="630">沟通交际的能力</text><text class="t e" x="646" y="660">参谋辅助的能力</text><text class="t e" x="646" y="690">主动开展工作的能力</text>
<text class="t e" x="745" y="763">小结</text>
<text class="t" x="540" y="720.5"><tspan x="558">秘书人员素质直接关系到秘书能否完成</tspan><tspan x="540" dy="10.6">好本职工作，做好领导的参谋助手，将各项工</tspan><tspan x="540" dy="10.6">作落实到实处，促进社会各项事业不断向前发</tspan><tspan x="540" dy="10.6">展。　　造就一支政治强、作风实、业务精</tspan><tspan x="540" dy="10.6">、素质高的秘书队伍，是建设社会主义现代化</tspan><tspan x="540" dy="10.6">事业的客观要求，也是新时代对我们秘书从业</tspan><tspan x="540" dy="10.6">人员提出的一项新课题，是一项长期的任秘书</tspan><tspan x="540" dy="10.6">工作者要在实践中积极探索，积累经验，逐步</tspan><tspan x="540" dy="10.6">提高，以适应社会发展的需要。</tspan></text>
</g>
<g id="dangzheng">
<rect class="pill" x="774" y="2580" width="116" height="24" rx="12"/><text class="pt" x="832" y="2596">党政机关公文写作</text>
<g id="dz-gaishu">
<text class="t e" x="756" y="1388">概述</text>
<text class="t e" x="714" y="856">定义</text>
<text class="t" x="510" y="835"><tspan x="510">党政机关实施领导、履行职能、处理公务的具</tspan><tspan x="510" dy="10.6">有特定效力和规范体式的文书，是传达贯彻党</tspan><tspan x="510" dy="10.6">和国家方针政策，公布法规和规章，指导、布</tspan><tspan x="510" dy="10.6">置和商洽工作，请示和答复问题，报告、通报</tspan><tspan x="510" dy="10.6">和交流情况等的重要工具</tspan></text>
<text class="t e" x="714" y="1075">分类</text>
<text class="t e" x="674" y="939">内容和使用范围</text>
<text class="t e" x="593" y="908">知照类</text><text class="t e" x="593" y="939">报请类</text><text class="t e" x="593" y="969">指令类</text>
<text class="t e" x="674" y="1029">行文方向</text>
<text class="t e" x="618" y="999">上行文</text><text class="t e" x="618" y="1029">平行文</text><text class="t e" x="618" y="1060">下行文</text>
<text class="t e" x="569" y="999">请示、报告</text><text class="t e" x="569" y="1029">函、议案</text><text class="t e" x="569" y="1060">通知、通告、通报、决定、批复、命令、公告</text>
<text class="t e" x="674" y="1120">缓急程度</text>
<text class="t e" x="618" y="1090">特急</text><text class="t e" x="618" y="1120">急件</text><text class="t e" x="618" y="1151">一般</text>
<text class="t e" x="674" y="1211">秘密级别</text>
<text class="t e" x="618" y="1181">绝密</text><text class="t e" x="618" y="1211">机密</text><text class="t e" x="618" y="1242">秘密</text>
<text class="t" x="608" y="1452"><tspan x="608">行文规则</tspan><tspan x="608" dy="10.6">根据隶属关系和职权范围确定</tspan></text>
<text class="t e" x="585" y="1318">机关之间的关系</text>
<text class="t e" x="502" y="1272">直接隶属关系</text><text class="t e" x="502" y="1303">间接隶属关系</text><text class="t e" x="502" y="1333">平行关系</text><text class="t e" x="502" y="1363">不相隶属关系</text>
<text class="t e" x="585" y="1596">具体规则</text>
<rect class="yb" x="466" y="1418" width="65" height="20" rx="3"/><text class="t m" x="498.5" y="1431">上行文行文规则</text>
<text class="t" x="231" y="1393"><tspan x="231">1．请示应当一文一事；一般只写一个主送机关，需要同时</tspan><tspan x="231" dy="10.7">送其他机关的，应当用抄送形式，但不得抄送其下级机关。</tspan><tspan x="231" dy="10.7">2．“报告”不得夹带请示事项。</tspan><tspan x="231" dy="10.7">3．一般不得越级请示和报告。</tspan><tspan x="231" dy="10.7">4．除上级机关负责人直接交办的事项外，不得以机关名义</tspan><tspan x="231" dy="10.7">向上级机关负责人报送请示、意见和报告。</tspan><tspan x="231" dy="10.7">5．受双重领导的机关向上级机关行文，应当写明主送机关</tspan><tspan x="231" dy="10.7">和抄送机关</tspan></text>
<rect class="yb" x="466" y="1511" width="65" height="20" rx="3"/><text class="t m" x="498.5" y="1524">下行文行文规则</text>
<text class="t" x="132" y="1497"><tspan x="132">1．政府各部门依据部门职权可以互相行文和向下一级政府的相关业务部门行文；除以</tspan><tspan x="132" dy="10.6">函的形式商洽工作、询问和答复问题、审批事项外，一般不得向下一级政府正式行文。</tspan><tspan x="132" dy="10.6">2．部门之间对有关问题未经协商一致，不得各自向下行文。如擅自行文，上级机关应</tspan><tspan x="132" dy="10.6">当责令纠正或撤销。</tspan><tspan x="132" dy="10.6">3．上级机关向受双重领导的下级机关行文，必要时应当抄送其另一上级机关。</tspan><tspan x="132" dy="10.6">4．向下级机关或者本系统的重要行文，应当同时抄送直接上级机关。</tspan></text>
<rect class="yb" x="466" y="1604" width="65" height="20" rx="3"/><text class="t m" x="498.5" y="1617">越级行文的情况</text>
<text class="t" x="206" y="1581"><tspan x="206">1.情况特殊紧急，逐级上报下达会延误时机造成重大损失。</tspan><tspan x="206" dy="10.6">2.经多次请示直接上级机关，问题长期未予解决。</tspan><tspan x="206" dy="10.6">3.上级机关交办并指定越级上报某些事项。</tspan><tspan x="206" dy="10.6">4.检举、控告直接上级机关。</tspan><tspan x="206" dy="10.6">5.直接上下级机关产生争议且无法解决。</tspan><tspan x="206" dy="10.6">6.需直接询问、答复、联系具体事项。</tspan><tspan x="206" dy="10.6">7.反映或处理不涉及直接上级或下级机关职权范围的偶发事件或问</tspan><tspan x="206" dy="10.6">题。越级行文应当抄送被越过的机关。</tspan></text>
<rect class="yb" x="473" y="1687" width="58" height="20" rx="3"/><text class="t m" x="502" y="1700">联合行文规则</text>
<text class="t" x="172" y="1685"><tspan x="172">1．同级政府、同级政府各部门、上级政府部门与下一级政府可以联合行文；</tspan><tspan x="172" dy="10.6">2．政府与同级党委和军队机关可以联合行文；</tspan><tspan x="172" dy="10.6">3．政府部门与相应的党组织和军队机关可以联合行文；</tspan><tspan x="172" dy="10.6">4．政府部门与同级人民团体和具有行政职能的事业单位也可以联合行文。</tspan></text>
<rect class="yb" x="473" y="1749" width="58" height="20" rx="3"/><text class="t m" x="502" y="1762">其他行文规则</text>
<text class="t" x="172" y="1747"><tspan x="172">1．属于部门职权范围的事务，应当由部门自行行文或联合行文。联合行文应</tspan><tspan x="172" dy="10.6">明确主办部门。须经政府审批的事项，经政府同意也可以部门行文，文中应注</tspan><tspan x="172" dy="10.6">明经政府同意。</tspan><tspan x="172" dy="10.6">2．属于主管部门职权范围内的具体问题，应当直接报送主管部门处理。</tspan></text>
<text class="t e" x="714" y="1843">排版规格</text><text class="t e" x="657" y="1843">主体</text>
<text class="t" x="462" y="1809"><tspan x="462">公文标题</tspan><tspan x="462" dy="10.6">（由三部分组成：发文机关、事由、文种）</tspan></text>
<text class="t e" x="617" y="1872">主送机关</text>
<text class="t" x="396" y="1849"><tspan x="396">除了直接面向社会的“公告通知”等周知性公</tspan><tspan x="396" dy="10.6">文外，一般都需要写上主送机关的名称</tspan></text>
<rect class="pk" x="440" y="1878" width="123" height="18" rx="4"/><text class="t m" x="501.5" y="1890">同类机关用顿号，不同类用逗号</text>
<text class="t e" x="714" y="1921">格式</text>
</g>
<g id="dz-zhizhao">
<text class="t" x="674" y="2360"><tspan x="674">知照性公文</tspan><tspan x="674" dy="10.6">（通知、通报、通告）</tspan></text>
<text class="t e" x="650" y="2182">通知</text><text class="t e" x="608" y="2182">种类</text>
<text class="t e" x="568" y="1979">指示型通知</text>
<text class="t e" x="498" y="1951">用于传达上级机关的决定和意见，对下级机关开展某项工作提出指导意见，做出具体部署。</text>
<text class="t" x="178" y="1981"><tspan x="178">通知缘由：概括情况，交代背景，（工作的重要性，以往的成绩，现存的问题），说明目</tspan><tspan x="178" dy="10.6">的（为……现就有关事项通知如下）</tspan><tspan x="178" dy="10.6">通知事项：通知的中心内容，是下级机关应知、应办的事项、工作的具体安排。要求内容</tspan><tspan x="178" dy="10.6">明确具体。</tspan><tspan x="178" dy="10.6">结尾：（1）要求下级机关结合实际情况认真研究通知精神并抓好落实；（2）专用尾语</tspan><tspan x="178" dy="10.6">：“特此通知”“请遵照执行”“请认真贯彻执行”；（3）省略结尾。</tspan></text>
<text class="t e" x="568" y="2092">转文性通知</text>
<text class="t e" x="495" y="2064">转文，即把现有的公文转给相关机关了解与执行。</text>
<text class="t e" x="502" y="2120">标题的写法</text>
<text class="t e" x="434" y="2094">标准：发文机关+（关于）批转/转发/印发（+原发文机关）+被发布文件标题+文种</text>
<text class="t e" x="436" y="2146">标题的简化</text>
<rect class="pk" x="35" y="2113" width="339" height="59" rx="5"/>
<text class="t" x="44" y="2125"><tspan x="44">(1) 原发文机关可以用规范化简称;</tspan><tspan x="44" dy="10.6">(2) 几个单位联合发文可以只保留主办单位名称，再加上“等单位（部门）”;</tspan><tspan x="44" dy="10.6">(3) 遇上多层转发，可以“越级”转发，扔掉中间的搭桥单位;</tspan><tspan x="44" dy="10.6">(4) 被转文件是“通知”时，应省掉“的通知”三字，避免出现“的通知的通知”情形;</tspan><tspan x="44" dy="10.6">(5) 省去原标题文种前的“的”字。</tspan></text>
<text class="t e" x="568" y="2249">事务性通知</text>
<text class="t" x="338" y="2197"><tspan x="338">用来传达、安排事务性工作。包括会议通知、</tspan><tspan x="338" dy="10.6">机构变动通知、人事调整通知、更改名称通知</tspan><tspan x="338" dy="10.6">、启用印章通知等。</tspan></text>
<text class="t" x="338" y="2248"><tspan x="338">通知事由：召开会议的背景、名称、目的。</tspan><tspan x="338" dy="10.6">“现将有关事项通知如下”通知事项：时间、</tspan><tspan x="338" dy="10.6">会址、议题、对参加会议人员的要求（如准备</tspan><tspan x="338" dy="10.6">发言、文件、论文、生活用品等）、注意事项</tspan><tspan x="338" dy="10.6">、筹办会议单位名称、联系人、联系地址、电</tspan><tspan x="338" dy="10.6">话号码等结尾：一般为秃尾型。附件一般包括</tspan><tspan x="338" dy="10.6">会议食宿安排、去会址路线、接洽标志等。要</tspan><tspan x="338" dy="10.6">写得清楚、具体，对必须写明的项目无一错</tspan><tspan x="338" dy="10.6">漏，以保证会议按预定要求准时召开。</tspan></text>
<text class="t e" x="568" y="2384">任免通知</text>
<text class="t e" x="505" y="2363">上级机关向有关部门正式传达相应的人事任免事项。</text>
<text class="t" x="309" y="2393"><tspan x="309">通知事由：决定任免的时间、机关、会议或依据的文件</tspan><tspan x="309" dy="10.6">通知事项：任免人员的姓名和具体职务</tspan><tspan x="309" dy="10.6">结尾：一般为秃尾型</tspan></text>
<text class="t e" x="650" y="2476">通报</text><text class="t e" x="608" y="2476">种类</text>
<text class="t e" x="568" y="2445">表扬通报</text><text class="t e" x="568" y="2476">批评通报</text><text class="t e" x="568" y="2506">情况通报</text>
<text class="t e" x="650" y="2551">通告</text><text class="t e" x="608" y="2551">种类</text>
<text class="t e" x="568" y="2536">制约性通告</text><text class="t e" x="568" y="2567">知照性公告</text>
</g>
<g id="dz-baoqing">
<text class="t e" x="755" y="2878">报请类公文</text>
<text class="t" x="649" y="2637"><tspan x="649">报告</tspan><tspan x="649" dy="10.6">（上行文）</tspan></text>
<text class="t e" x="626" y="2596">“适用于向上级机关汇报工作，反映情况，答复上级机关的询问”的公文。</text>
<text class="t e" x="625" y="2687">种类</text>
<text class="t e" x="584" y="2628">工作报告</text><text class="t e" x="584" y="2657">情况报告</text><text class="t e" x="584" y="2687">答复报告</text><text class="t e" x="584" y="2718">呈转报告</text><text class="t e" x="584" y="2748">递送报告</text>
<text class="t" x="649" y="2804"><tspan x="649">请示</tspan><tspan x="649" dy="10.6">（上行文）</tspan></text>
<text class="t e" x="626" y="2779">“适用于向上级机关请求指示、批准”的公文。请示为上行文，具有强制回复的性质。</text>
<text class="t e" x="625" y="2840">种类</text>
<text class="t e" x="584" y="2809">请求指示的请示</text><text class="t e" x="584" y="2840">请求批准的请示</text><text class="t e" x="584" y="2870">请求批转的请示</text>
<text class="t e" x="689" y="3113">批复</text>
<text class="t e" x="646" y="2900">上级机关答复下级机关请示事项的公文。</text>
<text class="t e" x="650" y="2946">种类</text>
<text class="t e" x="610" y="2931">指示性批复</text><text class="t e" x="610" y="2960">审批性批复</text>
<text class="t e" x="650" y="3070">写法</text>
<text class="t" x="279" y="2991"><tspan x="279">标题：普通式标题</tspan><tspan x="279" dy="10.5">发文机关＋事由＋文种</tspan><tspan x="279" dy="10.5">如《国务院关于换发第二代居民身份证有关问题的批复》</tspan><tspan x="279" dy="10.5">（常用于就某一问题作出指示的情况）</tspan><tspan x="279" dy="10.5">“加表态”式</tspan><tspan x="279" dy="10.5">发文机关＋表态＋事由＋文种</tspan><tspan x="279" dy="10.5">如《文化部关于同意林俊杰、梁静茹、安七炫等外籍歌手到江苏苏州演</tspan><tspan x="279" dy="10.5">出的批复》</tspan><tspan x="279" dy="10.5">（常用在请示事项被批准时使用。不予批准者，选用第１种标题法。）“加受文机关”式</tspan><tspan x="279" dy="10.5">发文机关＋事由＋受文机关＋文种</tspan><tspan x="279" dy="10.5">如:《国务院关于将辽宁蛇岛、老铁山划为重点自然保护区给辽宁省人民政府的批复》</tspan><tspan x="279" dy="10.5">《国务院办公厅关于深圳特区私人建房问题给广东省人民政府办公厅并福建省人民</tspan><tspan x="279" dy="10.5">政府办公厅的批复》</tspan><tspan x="279" dy="10.5">“双加”式</tspan><tspan x="279" dy="10.5">发文机关＋意见＋事由＋受文机关＋文种</tspan><tspan x="279" dy="10.5">如，《国务院关于同意烟台市城镇住房制度改革试行方案给山东省人民政府的批复》</tspan></text>
<text class="t e" x="650" y="3180">主送机关</text>
<text class="t e" x="650" y="3326">正文</text>
<text class="t" x="350" y="3209"><tspan x="350">引述来文——批复事项——结尾</tspan><tspan x="352" dy="10.6">1.引述来文，又称“引据”，即在批复的开头写明针对什么“请示”</tspan><tspan x="350" dy="10.6">给予答复，然后用过渡语“现批复如下”“经研究，同意……”或</tspan><tspan x="350" dy="10.6">“经研究，答复如下”</tspan><tspan x="350" dy="10.6">你单位＋请示标题＋发文字号＋收悉，现（就……问题）批复如下</tspan><tspan x="350" dy="10.6">如：你署《关于全国二类口岸清理整顿后口岸管理工作有关问题的请</tspan><tspan x="350" dy="10.6">示》（署岸发〔２０１１〕４６号）收悉，现批复如</tspan><tspan x="352" dy="10.6">2.批复事项</tspan><tspan x="350" dy="10.6">针对请示中提到的问题作出答复和指示，要求态度明确，对于所提的</tspan><tspan x="350" dy="10.6">请示问题，要依据有关方针、政策、法令作恰当而又明确的解答，有</tspan><tspan x="350" dy="10.6">些甚至要从领导角度再强调一些事项、希望。</tspan><tspan x="350" dy="10.6">完全同意的，写上肯定性意见。一般要求复述原请示主要内容，不能</tspan><tspan x="350" dy="10.6">只笼统写上“同意你们的意见”。</tspan><tspan x="350" dy="10.6">部分同意的，在叙述同意部分内容外，还要补充说明不同意或需要强</tspan><tspan x="350" dy="10.6">调的内容。</tspan><tspan x="350" dy="10.6">否定性批复，是对下级请示的否定，既要否定请示事项，又要说明否</tspan><tspan x="350" dy="10.6">定下级请示的理由，表达否定意见的，不宜简单地说“不同意你们的</tspan><tspan x="350" dy="10.6">意见”，而应用“暂缓进行”“暂不宜考虑”等委婉的语气</tspan><tspan x="352" dy="10.6">3.结语</tspan><tspan x="350" dy="10.6">（１）要求或补充说明</tspan><tspan x="350" dy="10.6">（２）特此批复、专此批复、此复</tspan><tspan x="350" dy="10.6">如果前文已有过渡语“现批复如下”等，则结语可省略。</tspan><tspan x="350" dy="10.6">（３）秃尾</tspan></text>
</g>
<g id="dz-zhihui">
<text class="t e" x="755" y="3573">指挥性公文</text>
<text class="t e" x="690" y="3516">命令</text>
<text class="t" x="486" y="3472"><tspan x="486">国家行政机关及其领导人发布的指挥性和强制</tspan><tspan x="486" dy="10.6">性的公文。</tspan></text>
<text class="t" x="394" y="3512"><tspan x="394">发布权限：国家主席、国务院及各部委、县及县以上各级人民政府、中</tspan><tspan x="394" dy="10.6">央军委作为党和国家领导军事工作的最高机关，具有发布命令的权限。</tspan></text>
<text class="t e" x="648" y="3554">种类：公布令、嘉奖令、行政令</text>
<text class="t e" x="690" y="3630">决定zh</text>
<text class="t" x="477" y="3584"><tspan x="477">决定是对重要事项或者重大行动做出安排，奖</tspan><tspan x="477" dy="10.6">惩有关单位及人员，变更或撤销下级机关不适</tspan><tspan x="477" dy="10.6">应的决定事项。</tspan></text>
<text class="t e" x="641" y="3666">种类</text>
<text class="t e" x="600" y="3636">安排性决定</text><text class="t e" x="600" y="3666">奖惩性决定</text><text class="t e" x="600" y="3696">变更性决定</text>
</g>
<g id="dz-qita">
<text class="t e" x="755" y="3812">其他公文</text>
<text class="t e" x="700" y="3764">函</text>
<text class="t" x="502" y="3726"><tspan x="502">适用于不相隶属机关相互商洽工作，询问和答</tspan><tspan x="502" dy="10.6">复问题，请求批准和答复审批事项的公文</tspan></text>
<text class="t e" x="666" y="3798">种类</text>
<text class="t e" x="626" y="3767">商洽函</text><text class="t e" x="626" y="3798">问答函</text><text class="t e" x="626" y="3828">请批、批答函</text>
<text class="t e" x="700" y="3859">纪要</text>
</g>
</g>
<g id="watermarks">
<text class="wm" transform="translate(630 560) rotate(-29)">树图 shutu.cn</text>
<text class="wm" transform="translate(1930 550) rotate(-29)">树图 shutu.cn</text>
<text class="wm" transform="translate(625 1595) rotate(-29)">树图 shutu.cn</text>
<text class="wm" transform="translate(1930 1620) rotate(-29)">树图 shutu.cn</text>
<text class="wm" transform="translate(615 2570) rotate(-29)">树图 shutu.cn</text>
<text class="wm" transform="translate(1930 2540) rotate(-29)">树图 shutu.cn</text>
<text class="wm" transform="translate(610 3580) rotate(-29)">树图 shutu.cn</text>
<text class="wm" transform="translate(1930 3550) rotate(-29)">树图 shutu.cn</text>
</g>
</svg>
